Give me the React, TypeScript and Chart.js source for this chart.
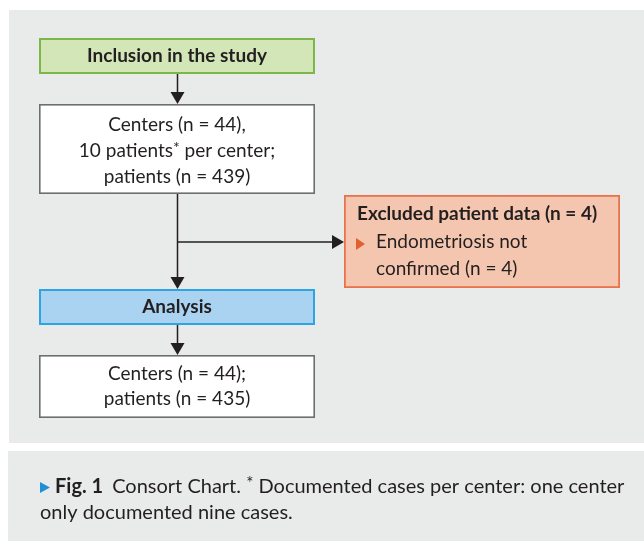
import React, { useEffect, useRef } from "react";
import { Chart, registerables } from "chart.js";

Chart.register(...registerables);

// ---- content (text values of the flow chart) ----
const inclusionTitle = "Inclusion in the study";
const enrolledLines = ["Centers (n = 44),", "10 patients* per center;", "patients (n = 439)"];
const excludedTitle = "Excluded patient data (n = 4)";
const excludedItems = ["Endometriosis not", "confirmed (n = 4)"];
const analysisTitle = "Analysis";
const analysedLines = ["Centers (n = 44);", "patients (n = 435)"];
const captionLabel = "Fig. 1";
const captionLines = [
  "Consort Chart. * Documented cases per center: one center",
  "only documented nine cases.",
];

// ---- layout (scale units = page pixels) ----
const W = 644;
const H = 541;
const PANEL = { x0: 9, y0: 10, x1: 644, y1: 443 };
const CAPTION_PANEL = { x0: 8, y0: 451, x1: 644, y1: 541 };
const BOX = {
  inclusion: { x0: 39, y0: 38, x1: 315, y1: 74 },
  enrolled: { x0: 39, y0: 104, x1: 315, y1: 194 },
  excluded: { x0: 344, y0: 195, x1: 620, y1: 288 },
  analysis: { x0: 39, y0: 289, x1: 315, y1: 325 },
  analysed: { x0: 39, y0: 355, x1: 315, y1: 418 },
};
const BRANCH_Y = 242;
const SPINE_X = (BOX.enrolled.x0 + BOX.enrolled.x1) / 2 + 0.5;

const FONT = "Lato, 'Noto Sans', sans-serif";
const TEXT = "#231f20";

type Pt = { x: number; y: number };
const connectors: Pt[][] = [
  [{ x: SPINE_X, y: BOX.inclusion.y1 }, { x: SPINE_X, y: BOX.enrolled.y0 - 4 }],
  [{ x: SPINE_X, y: BOX.enrolled.y1 }, { x: SPINE_X, y: BOX.analysis.y0 - 4 }],
  [{ x: SPINE_X, y: BRANCH_Y }, { x: BOX.excluded.x0 - 4, y: BRANCH_Y }],
  [{ x: SPINE_X, y: BOX.analysis.y1 }, { x: SPINE_X, y: BOX.analysed.y0 - 4 }],
];

function drawRich(ctx: CanvasRenderingContext2D, text: string, x: number, y: number, size: number, weight: string, align: "center" | "left") {
  const parts = text.split("*");
  const base = `${weight} ${size}px ${FONT}`;
  const small = `${weight} ${Math.round(size * 0.85)}px ${FONT}`;
  ctx.font = base;
  const widths: number[] = parts.map((p) => ctx.measureText(p).width);
  ctx.font = small;
  const starW = ctx.measureText("*").width;
  const total = widths.reduce((a, b) => a + b, 0) + starW * (parts.length - 1);
  let cx = align === "center" ? x - total / 2 : x;
  ctx.textAlign = "left";
  ctx.textBaseline = "alphabetic";
  parts.forEach((p, i) => {
    ctx.font = base;
    ctx.fillText(p, cx, y);
    cx += widths[i];
    if (i < parts.length - 1) {
      ctx.font = small;
      ctx.fillText("*", cx, y - size * 0.2);
      cx += starW;
    }
  });
}

const flowPlugin = {
  id: "flow",
  beforeDatasetsDraw(chart: any) {
    const ctx: CanvasRenderingContext2D = chart.ctx;
    const xs = chart.scales.x;
    const ys = chart.scales.y;
    const px = (v: number) => xs.getPixelForValue(v);
    const py = (v: number) => ys.getPixelForValue(v);
    ctx.save();
    ctx.fillStyle = "#ffffff";
    ctx.fillRect(0, 0, chart.width, chart.height);
    ctx.fillStyle = "#e9eaea";
    for (const p of [PANEL, CAPTION_PANEL]) {
      ctx.fillRect(px(p.x0), py(p.y0), px(p.x1) - px(p.x0), py(p.y1) - py(p.y0));
    }
    const drawBox = (b: any, fill: string, stroke: string, lw: number) => {
      const x = px(b.x0), y = py(b.y0), w = px(b.x1) - x, h = py(b.y1) - y;
      ctx.fillStyle = fill;
      ctx.fillRect(x, y, w, h);
      ctx.strokeStyle = stroke;
      ctx.lineWidth = lw;
      ctx.strokeRect(x + lw / 2, y + lw / 2, w - lw, h - lw);
    };
    drawBox(BOX.inclusion, "#d3e6b8", "#7db74a", 2);
    drawBox(BOX.enrolled, "#ffffff", "#6d6e70", 1.6);
    drawBox(BOX.excluded, "#f4c6af", "#e8734b", 1.8);
    drawBox(BOX.analysis, "#aad3f1", "#2ea4e4", 2);
    drawBox(BOX.analysed, "#ffffff", "#6d6e70", 1.6);
    ctx.restore();
  },
  afterDatasetsDraw(chart: any) {
    const ctx: CanvasRenderingContext2D = chart.ctx;
    const xs = chart.scales.x;
    const ys = chart.scales.y;
    const px = (v: number) => xs.getPixelForValue(v);
    const py = (v: number) => ys.getPixelForValue(v);
    ctx.save();
    ctx.fillStyle = TEXT;
    // arrowheads
    const down = (x: number, tip: number) => {
      ctx.beginPath();
      ctx.moveTo(px(x), py(tip));
      ctx.lineTo(px(x) - 7, py(tip) - 12);
      ctx.lineTo(px(x) + 7, py(tip) - 12);
      ctx.closePath();
      ctx.fill();
    };
    down(SPINE_X, BOX.enrolled.y0);
    down(SPINE_X, BOX.analysis.y0);
    down(SPINE_X, BOX.analysed.y0);
    ctx.beginPath();
    ctx.moveTo(px(BOX.excluded.x0), py(BRANCH_Y));
    ctx.lineTo(px(BOX.excluded.x0) - 12, py(BRANCH_Y) - 7);
    ctx.lineTo(px(BOX.excluded.x0) - 12, py(BRANCH_Y) + 7);
    ctx.closePath();
    ctx.fill();

    const cxMain = px((BOX.inclusion.x0 + BOX.inclusion.x1) / 2);
    const SZ = 19;
    const CAP = 20;
    // titles
    drawRich(ctx, inclusionTitle, cxMain, py(62), SZ, "bold", "center");
    drawRich(ctx, analysisTitle, cxMain, py(313), SZ, "bold", "center");
    // enrolled
    enrolledLines.forEach((l, i) => drawRich(ctx, l, cxMain, py(131 + i * 26), SZ, "normal", "center"));
    analysedLines.forEach((l, i) => drawRich(ctx, l, cxMain, py(380 + i * 25), SZ, "normal", "center"));
    // excluded
    drawRich(ctx, excludedTitle, px(357), py(220), SZ, "bold", "left");
    ctx.fillStyle = "#e2602e";
    ctx.beginPath();
    ctx.moveTo(px(356), py(238));
    ctx.lineTo(px(365), py(244));
    ctx.lineTo(px(356), py(250));
    ctx.closePath();
    ctx.fill();
    ctx.fillStyle = TEXT;
    excludedItems.forEach((l, i) => drawRich(ctx, l, px(376), py(248 + i * 27), SZ, "normal", "left"));
    // caption
    ctx.fillStyle = "#1f8fd6";
    ctx.beginPath();
    ctx.moveTo(px(40), py(482));
    ctx.lineTo(px(50), py(487.5));
    ctx.lineTo(px(40), py(493));
    ctx.closePath();
    ctx.fill();
    ctx.fillStyle = TEXT;
    ctx.font = `bold ${CAP}px ${FONT}`;
    ctx.textAlign = "left";
    ctx.textBaseline = "alphabetic";
    ctx.fillText(captionLabel, px(55), py(493));
    const lw = ctx.measureText(captionLabel).width;
    drawRich(ctx, captionLines[0], px(55) + lw + 9, py(493), CAP, "normal", "left");
    drawRich(ctx, captionLines[1], px(40), py(519), CAP, "normal", "left");
    ctx.restore();
  },
};

export default function App() {
  const ref = useRef<HTMLCanvasElement | null>(null);
  useEffect(() => {
    if (!ref.current) return;
    const chart = new Chart(ref.current, {
      type: "scatter",
      data: {
        datasets: connectors.map((seg) => ({
          data: seg,
          showLine: true,
          borderColor: TEXT,
          borderWidth: 1.5,
          pointRadius: 0,
          fill: false,
          tension: 0,
          clip: false as any,
        })),
      },
      options: {
        responsive: false,
        maintainAspectRatio: false,
        animation: false,
        events: [],
        layout: { padding: 0 },
        plugins: { legend: { display: false }, tooltip: { enabled: false } },
        scales: {
          x: { type: "linear", min: 0, max: W, display: false },
          y: { type: "linear", min: 0, max: H, reverse: true, display: false },
        },
      },
      plugins: [flowPlugin],
    } as any);
    return () => chart.destroy();
  }, []);
  return (
    <div style={{ position: "fixed", left: 0, top: 0, width: W, height: H }}>
      <canvas ref={ref} width={W} height={H} style={{ display: "block", width: W, height: H }} />
    </div>
  );
}
